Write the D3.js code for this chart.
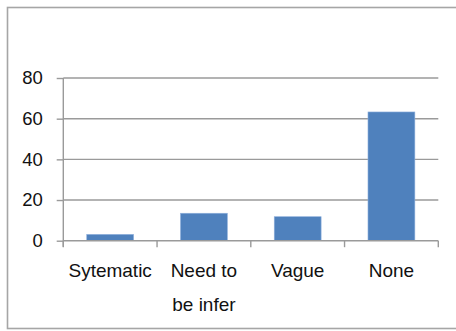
<!DOCTYPE html>
<html>
<head>
<meta charset="utf-8">
<script src="https://cdn.jsdelivr.net/npm/d3@7/dist/d3.min.js"></script>
<style>
  html, body { margin: 0; padding: 0; background: #fff; }
  svg { display: block; }
  text { font-family: "Liberation Sans", Arial, sans-serif; fill: #111; }
</style>
</head>
<body>
<svg id="chart" width="456" height="331"></svg>
<script>
// Response categories (two-line labels split on "\n")
const categories = ["Sytematic", "Need to\nbe infer", "Vague", "None"];
const values = [3.1, 13.5, 11.8, 63.3];
const yTicks = [0, 20, 40, 60, 80];

const svg = d3.select("#chart");
const W = 456, H = 331;

// outer frame
svg.append("rect")
  .attr("x", 7.5).attr("y", 7.5)
  .attr("width", W + 10).attr("height", 321)
  .attr("fill", "#fff")
  .attr("stroke", "#a6a6a6")
  .attr("stroke-width", 1.6);

const plot = { left: 63.3, right: 438.3, top: 78, bottom: 240.7 };

const x = d3.scaleBand()
  .domain(categories)
  .range([plot.left, plot.right])
  .paddingInner(0.5)
  .paddingOuter(0.25);

const y = d3.scaleLinear()
  .domain([0, 80])
  .range([plot.bottom, plot.top]);

const grid = "#9a9a9a";

// horizontal gridlines
svg.append("g")
  .selectAll("line")
  .data(yTicks.filter(d => d > 0))
  .join("line")
  .attr("x1", plot.left).attr("x2", plot.right)
  .attr("y1", d => y(d)).attr("y2", d => y(d))
  .attr("stroke", grid).attr("stroke-width", 1.4);

// bars
svg.append("g")
  .selectAll("rect")
  .data(categories.map((c, i) => ({ c, v: values[i] })))
  .join("rect")
  .attr("x", d => x(d.c))
  .attr("y", d => y(d.v))
  .attr("width", x.bandwidth())
  .attr("height", d => y(0) - y(d.v))
  .attr("fill", "#4f81bd")
  .attr("stroke", "#8fb0dc")
  .attr("stroke-width", 0.6);

// y axis
const yAxis = svg.append("g")
  .attr("transform", `translate(${plot.left},0)`)
  .call(d3.axisLeft(y).tickValues(yTicks).tickSize(6.6).tickPadding(14));
yAxis.select(".domain").attr("stroke", grid).attr("stroke-width", 1.4)
  .attr("d", `M0,${plot.top}V${plot.bottom + 6}`);
yAxis.selectAll(".tick line").attr("stroke", grid).attr("stroke-width", 1.4);
yAxis.selectAll(".tick text")
  .style("font-size", "18.5px")
  .style("font-family", "'Liberation Sans', Arial, sans-serif")
  .attr("fill", "#111");

// x axis with tick marks at band boundaries
const xAxisG = svg.append("g");
xAxisG.append("line")
  .attr("x1", plot.left).attr("x2", plot.right)
  .attr("y1", y(0)).attr("y2", y(0))
  .attr("stroke", grid).attr("stroke-width", 1.4);
const step = x.step();
const bounds = categories.map((c, i) => x(c) - x.paddingInner() * step / 2 + step)
  .concat([plot.left]);
xAxisG.selectAll("line.tk")
  .data(bounds)
  .join("line")
  .attr("class", "tk")
  .attr("x1", d => d).attr("x2", d => d)
  .attr("y1", y(0)).attr("y2", y(0) + 6.5)
  .attr("stroke", grid).attr("stroke-width", 1.4);

// category labels
const labels = svg.append("g")
  .selectAll("text")
  .data(categories)
  .join("text")
  .attr("text-anchor", "middle")
  .attr("x", d => x(d) + x.bandwidth() / 2)
  .attr("y", 276.5)
  .style("font-size", "19px");
labels.each(function (d) {
  const t = d3.select(this);
  d.split("\n").forEach((line, i) => {
    t.append("tspan")
      .attr("x", x(d) + x.bandwidth() / 2)
      .attr("dy", i === 0 ? 0 : 34)
      .text(line);
  });
});
</script>
</body>
</html>
